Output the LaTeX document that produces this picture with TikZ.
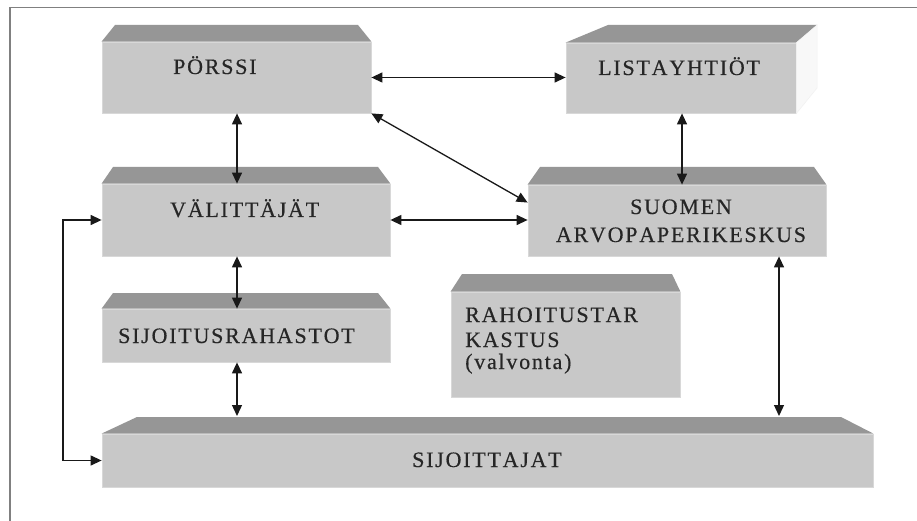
\documentclass[tikz,border=0pt]{standalone}
\usepackage{fontspec}
\setmainfont{Liberation Serif}[LetterSpace=8,Kerning=Off,FakeBold=0.4]
\usetikzlibrary{arrows.meta,calc}
\definecolor{frontc}{HTML}{C8C8C8}
\definecolor{topc}{HTML}{969696}
\definecolor{edgec}{HTML}{D8D8D8}
\definecolor{sidec}{HTML}{F8F8F8}
\definecolor{framec}{HTML}{808080}
\begin{document}
\begin{tikzpicture}[x=1pt,y=-1pt,
  front/.style={fill=frontc, draw=edgec, line width=0.8pt, inner sep=0pt},
  topface/.style={fill=topc},
  lbl/.style={font=\fontsize{22}{26}\selectfont, text=black!85, inner sep=0pt, anchor=base west},
  clbl/.style={font=\fontsize{22}{26}\selectfont, text=black!85, inner sep=0pt, anchor=base},
  arr/.style={draw=black!90, line width=1.3pt,
    {Triangle[length=11pt,width=10pt]}-{Triangle[length=11pt,width=10pt]}},
]
\useasboundingbox (0,0) rectangle (917,521);
\fill[white] (0,0) rectangle (917,521);
\draw[framec, line width=1.2pt] (10,521) -- (10,7.5) -- (917,7.5);

% PORSSI
\node[front, minimum width=269pt, minimum height=71pt] (porssi) at (236.5,77.5) {};
\fill[topface] (porssi.north west) -- (115,25) -- (358,25) -- (porssi.north east) -- cycle;
% LISTAYHTIOT
\node[front, minimum width=230pt, minimum height=70pt] (lista) at (681,78) {};
\fill[topface] (lista.north west) -- (608,25) -- (817,25) -- (lista.north east) -- cycle;
\filldraw[fill=sidec, draw=sidec!97!black, line width=0.5pt] (lista.north east) -- (817,25) -- (817,88) -- (lista.south east) -- cycle;
% VALITTAJAT
\node[front, minimum width=288pt, minimum height=72pt] (valit) at (246,220) {};
\fill[topface] (valit.north west) -- (113,167) -- (378,167) -- (valit.north east) -- cycle;
% SUOMEN ARVOPAPERIKESKUS
\node[front, minimum width=298pt, minimum height=71pt] (suomen) at (677,220.5) {};
\fill[topface] (suomen.north west) -- (540,167) -- (814,167) -- (suomen.north east) -- cycle;
% RAHOITUSTARKASTUS
\node[front, minimum width=229pt, minimum height=105pt] (rahoi) at (565.5,344.5) {};
\fill[topface] (rahoi.north west) -- (462,274) -- (672,274) -- (rahoi.north east) -- cycle;
% SIJOITUSRAHASTOT
\node[front, minimum width=288pt, minimum height=53pt] (sijr) at (246,335.5) {};
\fill[topface] (sijr.north west) -- (113,293) -- (378,293) -- (sijr.north east) -- cycle;
% SIJOITTAJAT
\node[front, minimum width=771pt, minimum height=53pt] (sij) at (487.5,460.5) {};
\fill[topface] (sij.north west) -- (137,417) -- (841,417) -- (sij.north east) -- cycle;

% texts
\node[lbl] (tporssi) at (173,74) {PÖRSSI};
\node[lbl] (tlista) at (598,75) {LISTAYHTIÖT};
\node[lbl] (tvalit) at (170,217) {VÄLITTÄJÄT};
\node[clbl] (tsuomen1) at (681,214) {SUOMEN};
\node[clbl] (tsuomen2) at (681,242) {ARVOPAPERIKESKUS};
\node[lbl] (trahoi1) at (465,322) {RAHOITUSTAR};
\node[lbl] (trahoi2) at (465,347) {KASTUS};
\node[lbl] (trahoi3) at (465,369) {(valvonta)};
\node[lbl] (tsijr) at (118,343) {SIJOITUSRAHASTOT};
\node[lbl] (tsij) at (412,467) {SIJOITTAJAT};

% connector columns
\coordinate (colA) at (237,0);
\coordinate (colB) at (682,0);
\coordinate (colC) at (779,0);
\coordinate (elbow) at (63,0);
\coordinate (sijtop) at (0,416);

\draw[arr] (porssi.east) -- (porssi.east -| lista.west);
\draw[arr] (porssi.south east) -- ($(suomen.north west)!0.25!(suomen.south west)$);
\draw[arr] (valit.east) -- (valit.east -| suomen.west);
\draw[arr] (colA |- porssi.south) -- (colA |- valit.north);
\draw[arr] (colA |- valit.south) -- (colA |- sijr.north);
\draw[arr] (colA |- sijr.south) -- (colA |- sijtop);
\draw[arr] (colB |- lista.south) -- (colB |- suomen.north);
\draw[arr] (colC |- suomen.south) -- (colC |- sijtop);
\draw[arr] (valit.west) -- (elbow |- valit.west) -- (elbow |- sij.west) -- (sij.west);
\end{tikzpicture}
\end{document}
